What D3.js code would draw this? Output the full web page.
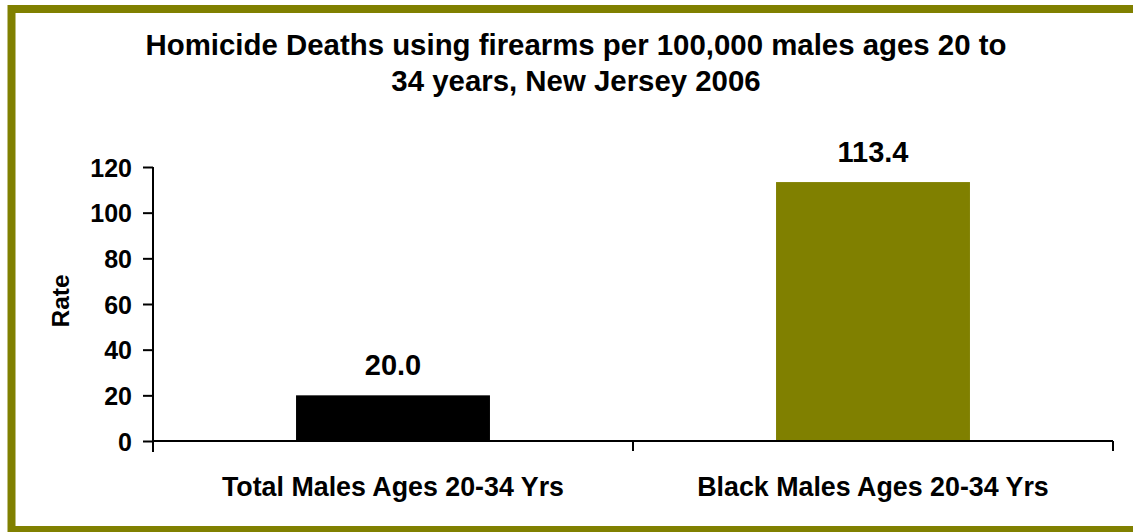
<!DOCTYPE html>
<html>
<head>
<meta charset="utf-8">
<script src="https://cdn.jsdelivr.net/npm/d3@7"></script>
<style>
  html, body { margin: 0; padding: 0; background: #fff; }
  svg { display: block; }
  text { font-family: "Liberation Sans", Arial, sans-serif; font-weight: bold; fill: #000; }
</style>
</head>
<body>
<svg id="chart" width="1133" height="532"></svg>
<script>
// Homicide deaths using firearms per 100,000 males ages 20 to 34, New Jersey 2006
const categories = ["Total Males Ages 20-34 Yrs", "Black Males Ages 20-34 Yrs"];
const rates = [20.0, 113.4];
const barColors = ["#000000", "#808000"];
const yTicks = [0, 20, 40, 60, 80, 100, 120];
const titleLines = [
  "Homicide Deaths using firearms per 100,000 males ages 20 to",
  "34 years, New Jersey 2006"
];
const yLabel = "Rate";

const svg = d3.select("#chart");

// olive frame (right edge runs off the canvas)
svg.append("rect")
  .attr("x", 11.5).attr("y", 9)
  .attr("width", 1200).attr("height", 521)
  .attr("fill", "#fff")
  .attr("stroke", "#808000")
  .attr("stroke-width", 8);

// title
svg.append("g").selectAll("text")
  .data(titleLines)
  .join("text")
  .attr("x", 576)
  .attr("y", (d, i) => 55 + i * 36)
  .attr("text-anchor", "middle")
  .style("font-size", "29.4px")
  .text(d => d);

const plot = { left: 153, right: 1113, top: 167, bottom: 441 };

const x = d3.scaleBand()
  .domain(categories)
  .range([plot.left, plot.right])
  .paddingInner(0.596)
  .paddingOuter(0.298);

const y = d3.scaleLinear()
  .domain([0, 120])
  .range([plot.bottom, plot.top]);

// bars
svg.append("g").selectAll("rect")
  .data(categories)
  .join("rect")
  .attr("x", d => x(d))
  .attr("width", x.bandwidth())
  .attr("y", (d, i) => y(rates[i]))
  .attr("height", (d, i) => y(0) - y(rates[i]))
  .attr("fill", (d, i) => barColors[i]);

// value labels
svg.append("g").selectAll("text")
  .data(categories)
  .join("text")
  .attr("x", d => x(d) + x.bandwidth() / 2)
  .attr("y", (d, i) => y(rates[i]) - 20)
  .attr("text-anchor", "middle")
  .style("font-size", "29px")
  .text((d, i) => rates[i].toFixed(1));

// y axis
const yAxis = svg.append("g")
  .attr("transform", `translate(${plot.left},0)`)
  .call(d3.axisLeft(y).tickValues(yTicks).tickSize(10).tickPadding(11).tickSizeOuter(0));
yAxis.select(".domain").attr("stroke", "#000").attr("stroke-width", 2)
  .attr("d", `M0,${plot.top}V${plot.bottom + 11}`);
yAxis.selectAll(".tick line").attr("stroke", "#000").attr("stroke-width", 2);
yAxis.selectAll(".tick text")
  .style("font-family", "'Liberation Sans', Arial, sans-serif")
  .style("font-weight", "bold")
  .style("font-size", "25px")
  .attr("dy", "0.36em");

// x axis with ticks at category boundaries
const xGroup = svg.append("g");
xGroup.append("line")
  .attr("x1", plot.left).attr("x2", plot.right)
  .attr("y1", plot.bottom).attr("y2", plot.bottom)
  .attr("stroke", "#000").attr("stroke-width", 2);
const boundaries = categories.map(c => x(c) + x.bandwidth() / 2 + x.step() / 2);
xGroup.selectAll("line.tk")
  .data(boundaries)
  .join("line")
  .attr("class", "tk")
  .attr("x1", d => d).attr("x2", d => d)
  .attr("y1", plot.bottom).attr("y2", plot.bottom + 10)
  .attr("stroke", "#000").attr("stroke-width", 2);

// category labels
xGroup.selectAll("text")
  .data(categories)
  .join("text")
  .attr("x", d => x(d) + x.bandwidth() / 2)
  .attr("y", 496)
  .attr("text-anchor", "middle")
  .style("font-size", "26.8px")
  .text(d => d);

// y axis title
svg.append("text")
  .attr("transform", `translate(69,301) rotate(-90)`)
  .attr("text-anchor", "middle")
  .style("font-size", "24.5px")
  .text(yLabel);
</script>
</body>
</html>
